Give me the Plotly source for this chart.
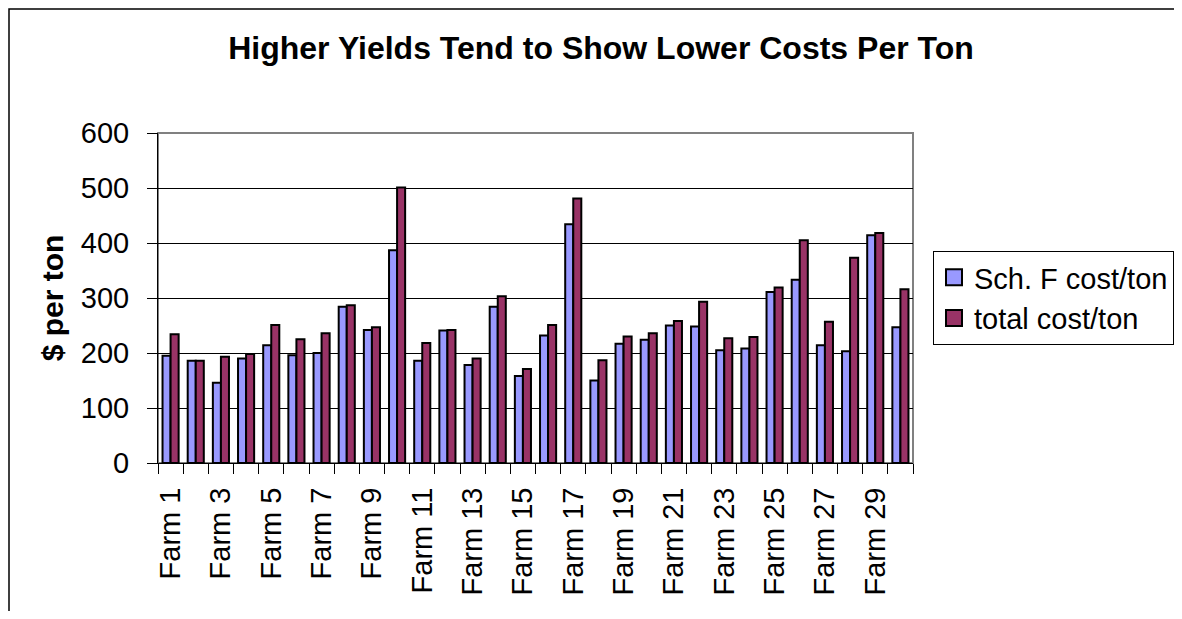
import plotly.graph_objects as go

farms = ["Farm %d" % i for i in range(1, 31)]
sch_f_cost = [195, 186, 146, 190, 214, 196, 200, 284, 242, 387,
              186, 241, 178, 284, 158, 232, 434, 150, 217, 224,
              250, 248, 205, 208, 311, 333, 214, 203, 414, 247]
total_cost = [234, 186, 193, 198, 251, 225, 236, 287, 247, 501,
              218, 242, 190, 303, 171, 251, 481, 187, 230, 236,
              258, 293, 227, 229, 319, 405, 257, 373, 418, 316]
tick_text = [f if i % 2 == 0 else "" for i, f in enumerate(farms)]
series_names = ["Sch. F cost/ton", "total cost/ton"]
series_colors = ["#9999FF", "#993366"]

# page has an 8px body margin, so the figure is drawn 16px smaller to avoid scrolling
W, H = 1166, 603
L, R, T, B = 150, 905, 125, 455


def px_x(p):
    return (p - L) / (R - L)


def px_y(p):
    return (B - p) / (B - T)


fig = go.Figure()
for vals, name, col in zip([sch_f_cost, total_cost], series_names, series_colors):
    fig.add_trace(go.Bar(x=farms, y=vals, name=name, showlegend=False,
                         marker=dict(color=col, line=dict(color="black", width=2))))
# legend entries with larger square swatches
for name, col in zip(series_names, series_colors):
    fig.add_trace(go.Scatter(x=[None], y=[None], mode="markers", name=name,
                             marker=dict(symbol="square", size=16, color=col,
                                         line=dict(color="black", width=2))))

fig.update_layout(
    width=W, height=H,
    margin=dict(l=L, r=W - R, t=T, b=H - B, autoexpand=False),
    paper_bgcolor="white", plot_bgcolor="white",
    font=dict(family="Liberation Sans, Arial", size=29, color="black"),
    barmode="group", bargap=0.36, bargroupgap=0,
    title=dict(text="<b>Higher Yields Tend to Show Lower Costs Per Ton</b>",
               x=px_x(593), xref="paper", xanchor="center",
               y=1 - 40 / H, yanchor="middle", font=dict(size=32)),
    legend=dict(x=px_x(925), y=px_y(243), xanchor="left", yanchor="top",
                bordercolor="black", borderwidth=1, bgcolor="white",
                font=dict(size=29), tracegroupgap=0, itemwidth=30),
    showlegend=True,
)
fig.update_xaxes(
    type="category", tickmode="array", tickvals=farms, ticktext=tick_text,
    tickangle=-90, tickson="boundaries", ticks="outside", ticklen=10,
    tickcolor="black", showline=True, linecolor="black", linewidth=1,
    showgrid=False, tickfont=dict(size=29), ticklabelstandoff=12,
)
fig.update_yaxes(
    range=[0, 600], dtick=100, ticks="outside", ticklen=10, tickcolor="black",
    showline=True, linecolor="black", linewidth=1,
    showgrid=True, gridcolor="black", gridwidth=1, zeroline=False,
    tickfont=dict(size=29), ticklabelstandoff=12,
    title=dict(text="<b>$ per ton</b>", font=dict(size=30), standoff=8),
)

# plot area border (grey) and outer chart border
fig.add_shape(type="rect", xref="paper", yref="paper", x0=0, x1=1, y0=0, y1=1,
              line=dict(color="#808080", width=2), layer="below")
fig.add_shape(type="rect", xref="paper", yref="paper",
              x0=px_x(1), x1=px_x(1200), y0=px_y(640), y1=px_y(1),
              line=dict(color="black", width=1.5), layer="below")

fig.write_html("out.html")
